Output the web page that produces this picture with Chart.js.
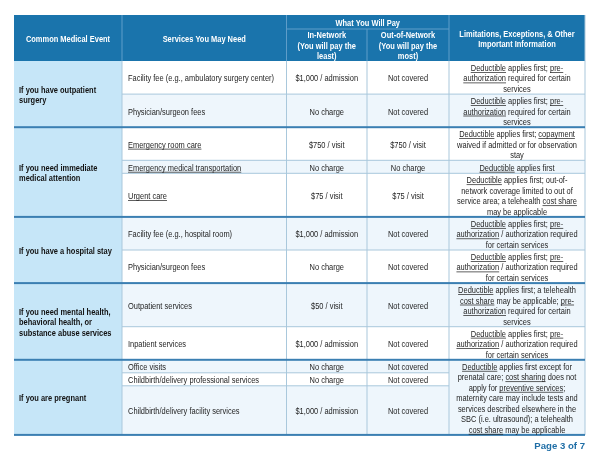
<!DOCTYPE html>
<html>
<head>
<meta charset="utf-8">
<script src="https://cdn.jsdelivr.net/npm/chart.js@4.4.1/dist/chart.umd.min.js"></script>
<style>
html,body{margin:0;padding:0;background:#fff;}
canvas{display:block;}
</style>
</head>
<body>
<canvas id="c" width="600" height="463"></canvas>
<script>
// ---------------- DATA ----------------
const headerEvent = ["Common Medical Event"];
const headerServices = ["Services You May Need"];
const headerPay = ["What You Will Pay"];
const headerIn = ["In-Network", "(You will pay the", "least)"];
const headerOut = ["Out-of-Network", "(You will pay the", "most)"];
const headerLimits = ["Limitations, Exceptions, & Other", "Important Information"];

const events = [
  ["If you have outpatient", "surgery"],
  ["If you need immediate", "medical attention"],
  ["If you have a hospital stay"],
  ["If you need mental health,", "behavioral health, or", "substance abuse services"],
  ["If you are pregnant"]
];
const eventRowSpans = [2, 3, 2, 2, 3];

// "_text_" marks underlined words
const services = [
  "Facility fee (e.g., ambulatory surgery center)",
  "Physician/surgeon fees",
  "_Emergency room care_",
  "_Emergency medical transportation_",
  "_Urgent care_",
  "Facility fee (e.g., hospital room)",
  "Physician/surgeon fees",
  "Outpatient services",
  "Inpatient services",
  "Office visits",
  "Childbirth/delivery professional services",
  "Childbirth/delivery facility services"
];
const inNetwork = [
  "$1,000 / admission", "No charge", "$750 / visit", "No charge", "$75 / visit",
  "$1,000 / admission", "No charge", "$50 / visit", "$1,000 / admission",
  "No charge", "No charge", "$1,000 / admission"
];
const outNetwork = [
  "Not covered", "Not covered", "$750 / visit", "No charge", "$75 / visit",
  "Not covered", "Not covered", "Not covered", "Not covered",
  "Not covered", "Not covered", "Not covered"
];
const limitations = [
  ["_Deductible_ applies first; _pre-_", "_authorization_ required for certain", "services"],
  ["_Deductible_ applies first; _pre-_", "_authorization_ required for certain", "services"],
  ["_Deductible_ applies first; _copayment_", "waived if admitted or for observation", "stay"],
  ["_Deductible_ applies first"],
  ["_Deductible_ applies first; out-of-", "network coverage limited to out of", "service area; a telehealth _cost share_", "may be applicable"],
  ["_Deductible_ applies first; _pre-_", "_authorization_ / authorization required", "for certain services"],
  ["_Deductible_ applies first; _pre-_", "_authorization_ / authorization required", "for certain services"],
  ["_Deductible_ applies first; a telehealth", "_cost share_ may be applicable; _pre-_", "_authorization_ required for certain", "services"],
  ["_Deductible_ applies first; _pre-_", "_authorization_ / authorization required", "for certain services"],
  ["_Deductible_ applies first except for", "prenatal care; _cost sharing_ does not", "apply for _preventive services_;", "maternity care may include tests and", "services described elsewhere in the", "SBC (i.e. ultrasound); a telehealth", "_cost share_ may be applicable"]
];
const limitationRowSpans = [1, 1, 1, 1, 1, 1, 1, 1, 1, 3];
const pageLabel = "Page 3 of 7";

// ---------------- LAYOUT / STYLE ----------------
const W = 600, H = 463;
const COLS = [14, 122, 286.5, 367, 449, 585];
const TABLE_TOP = 15, HEAD_SPLIT = 29, HEAD_BOTTOM = 61;
const LH = 10.5, PAD = 1.6, MIN_ROW = 13, BASE_OFF = 3.9;
const FONT_PX = 9.1;
const REF_STR = "Facility fee (e.g., ambulatory surgery center)", REF_W = 146;
const C_HEAD = "#1a74ac", C_HEAD_LINE = "#5e9dc9", C_EVENT = "#c6e6f8", C_TINT = "#eef6fc";
const C_GRID = "#a9c8dc", C_SECTION = "#3b7fb2", C_TEXT = "#1e1e1e", C_PAGE = "#1f6ea6";

function hasFont(ctx, name) {
  ctx.font = '40px "' + name + '", monospace';
  const a = ctx.measureText("abcdefghij ilmw").width;
  ctx.font = '40px monospace';
  const b = ctx.measureText("abcdefghij ilmw").width;
  return Math.abs(a - b) > 0.5;
}

const tablePlugin = {
  id: 'sbcTable',
  afterDraw(chart) {
    const ctx = chart.ctx;
    const xs = chart.scales.x, ys = chart.scales.y;
    const X = v => xs.getPixelForValue(v);
    const Y = v => ys.getPixelForValue(v);

    const fam = hasFont(ctx, "Liberation Sans Narrow") ? '"Liberation Sans Narrow"' : '"Liberation Sans", Arial, sans-serif';
    const fReg = FONT_PX + 'px ' + fam;
    const fBold = 'bold ' + FONT_PX + 'px ' + fam;
    ctx.font = fReg;
    const sx = REF_W / ctx.measureText(REF_STR).width;

    function drawRich(text, x, yMid, align, font, color) {
      ctx.font = font;
      const segs = text.split('_');
      const widths = segs.map(s => ctx.measureText(s).width * sx);
      const total = widths.reduce((a, b) => a + b, 0);
      let cx = align === 'center' ? x - total / 2 : (align === 'right' ? x - total : x);
      const base = yMid + BASE_OFF;
      segs.forEach((s, i) => {
        if (!s) return;
        ctx.save();
        ctx.scale(sx, 1);
        ctx.textAlign = 'left';
        ctx.textBaseline = 'alphabetic';
        ctx.fillStyle = color;
        ctx.font = font;
        ctx.fillText(s, cx / sx, base);
        ctx.restore();
        if (i % 2 === 1) {
          ctx.fillStyle = color;
          ctx.fillRect(cx, base + 1.1, widths[i], 0.7);
        }
        cx += widths[i];
      });
    }
    function drawLines(lines, x, top, bottom, align, font, color) {
      const mid = (top + bottom) / 2;
      const start = mid - lines.length * LH / 2 + LH / 2;
      lines.forEach((l, k) => drawRich(l, x, start + k * LH, align, font, color));
    }

    // ---- row heights from line counts ----
    const n = services.length;
    const limRowOf = [];
    let r = 0;
    limitationRowSpans.forEach((s, i) => { limRowOf.push(r); r += s; });
    const heights = [];
    for (let i = 0; i < n; i++) {
      let lines = 1;
      limitationRowSpans.forEach((s, j) => { if (s === 1 && limRowOf[j] === i) lines = Math.max(lines, limitations[j].length); });
      heights.push(Math.max(lines * LH + PAD, MIN_ROW));
    }
    limitationRowSpans.forEach((s, j) => {
      if (s > 1) {
        const need = limitations[j].length * LH + PAD;
        let sum = 0;
        for (let k = limRowOf[j]; k < limRowOf[j] + s; k++) sum += heights[k];
        if (sum < need) heights[limRowOf[j] + s - 1] += need - sum;
      }
    });
    const tops = [HEAD_BOTTOM];
    heights.forEach((h, i) => tops.push(tops[i] + h));

    const cx0 = X(COLS[0]), cxN = X(COLS[5]);

    // ---- header ----
    ctx.fillStyle = C_HEAD;
    ctx.fillRect(cx0, Y(TABLE_TOP), cxN - cx0, Y(HEAD_BOTTOM) - Y(TABLE_TOP));
    ctx.fillStyle = C_HEAD_LINE;
    [1, 2, 4].forEach(c => ctx.fillRect(X(COLS[c]) - 0.5, Y(TABLE_TOP), 1, Y(HEAD_BOTTOM) - Y(TABLE_TOP)));
    ctx.fillRect(X(COLS[3]) - 0.5, Y(HEAD_SPLIT), 1, Y(HEAD_BOTTOM) - Y(HEAD_SPLIT));
    ctx.fillRect(X(COLS[2]), Y(HEAD_SPLIT) - 0.5, X(COLS[4]) - X(COLS[2]), 1);

    // ---- body fills ----
    for (let i = 0; i < n; i++) {
      ctx.fillStyle = i % 2 === 1 ? C_TINT : '#ffffff';
      ctx.fillRect(X(COLS[1]), Y(tops[i]), X(COLS[5]) - X(COLS[1]), Y(tops[i + 1]) - Y(tops[i]));
    }
    limitationRowSpans.forEach((s, j) => {
      if (s > 1) {
        ctx.fillStyle = C_TINT;
        ctx.fillRect(X(COLS[4]), Y(tops[limRowOf[j]]), X(COLS[5]) - X(COLS[4]), Y(tops[limRowOf[j] + s]) - Y(tops[limRowOf[j]]));
      }
    });
    ctx.fillStyle = C_EVENT;
    ctx.fillRect(X(COLS[0]), Y(HEAD_BOTTOM), X(COLS[1]) - X(COLS[0]), Y(tops[n]) - Y(HEAD_BOTTOM));

    // ---- grid ----
    ctx.fillStyle = C_GRID;
    [1, 2, 3, 4, 5].forEach(c => ctx.fillRect(X(COLS[c]) - 0.5, Y(HEAD_BOTTOM), 1, Y(tops[n]) - Y(HEAD_BOTTOM)));
    ctx.fillRect(X(COLS[5]) - 0.5, Y(TABLE_TOP), 1, Y(HEAD_BOTTOM) - Y(TABLE_TOP));
    const sectionStarts = [];
    let acc = 0;
    eventRowSpans.forEach(s => { sectionStarts.push(acc); acc += s; });
    for (let i = 1; i < n; i++) {
      if (sectionStarts.includes(i)) continue;
      ctx.fillRect(X(COLS[1]), Y(tops[i]) - 0.5, X(COLS[4]) - X(COLS[1]), 1);
      let merged = false;
      limitationRowSpans.forEach((s, j) => { if (s > 1 && i > limRowOf[j] && i < limRowOf[j] + s) merged = true; });
      if (!merged) ctx.fillRect(X(COLS[4]), Y(tops[i]) - 0.5, X(COLS[5]) - X(COLS[4]), 1);
    }
    ctx.fillStyle = C_SECTION;
    sectionStarts.forEach((s, k) => { if (k > 0) ctx.fillRect(cx0, Y(tops[s]) - 1, cxN - cx0, 2); });
    ctx.fillRect(cx0, Y(tops[n]) - 1, cxN - cx0, 2);

    // ---- header text ----
    drawLines(headerEvent, (X(COLS[0]) + X(COLS[1])) / 2, Y(TABLE_TOP), Y(HEAD_BOTTOM), 'center', fBold, '#ffffff');
    drawLines(headerServices, (X(COLS[1]) + X(COLS[2])) / 2, Y(TABLE_TOP), Y(HEAD_BOTTOM), 'center', fBold, '#ffffff');
    drawLines(headerPay, (X(COLS[2]) + X(COLS[4])) / 2, Y(TABLE_TOP), Y(HEAD_SPLIT), 'center', fBold, '#ffffff');
    drawLines(headerIn, (X(COLS[2]) + X(COLS[3])) / 2, Y(HEAD_SPLIT), Y(HEAD_BOTTOM), 'center', fBold, '#ffffff');
    drawLines(headerOut, (X(COLS[3]) + X(COLS[4])) / 2, Y(HEAD_SPLIT), Y(HEAD_BOTTOM), 'center', fBold, '#ffffff');
    drawLines(headerLimits, (X(COLS[4]) + X(COLS[5])) / 2, Y(TABLE_TOP), Y(HEAD_BOTTOM), 'center', fBold, '#ffffff');

    // ---- body text ----
    eventRowSpans.forEach((s, k) => {
      const a = sectionStarts[k];
      drawLines(events[k], X(COLS[0]) + 5, Y(tops[a]), Y(tops[a + s]), 'left', fBold, '#111111');
    });
    for (let i = 0; i < n; i++) {
      const t = Y(tops[i]), b = Y(tops[i + 1]);
      drawLines([services[i]], X(COLS[1]) + 6, t, b, 'left', fReg, C_TEXT);
      drawLines([inNetwork[i]], (X(COLS[2]) + X(COLS[3])) / 2, t, b, 'center', fReg, C_TEXT);
      drawLines([outNetwork[i]], (X(COLS[3]) + X(COLS[4])) / 2, t, b, 'center', fReg, C_TEXT);
    }
    limitationRowSpans.forEach((s, j) => {
      const a = limRowOf[j];
      drawLines(limitations[j], (X(COLS[4]) + X(COLS[5])) / 2, Y(tops[a]), Y(tops[a + s]), 'center', fReg, C_TEXT);
    });

    // ---- page label ----
    ctx.save();
    ctx.font = 'bold 9.6px "Liberation Sans", Arial, sans-serif';
    ctx.fillStyle = C_PAGE;
    ctx.textAlign = 'right';
    ctx.textBaseline = 'alphabetic';
    ctx.fillText(pageLabel, X(COLS[5]), Y(tops[n]) + 14.5);
    ctx.restore();
  }
};

new Chart(document.getElementById('c'), {
  type: 'scatter',
  data: { datasets: [] },
  options: {
    responsive: false,
    animation: false,
    events: [],
    layout: { padding: 0 },
    scales: {
      x: { type: 'linear', min: 0, max: W, display: false },
      y: { type: 'linear', min: 0, max: H, reverse: true, display: false }
    },
    plugins: { legend: { display: false }, tooltip: { enabled: false } }
  },
  plugins: [tablePlugin]
});
</script>
</body>
</html>
